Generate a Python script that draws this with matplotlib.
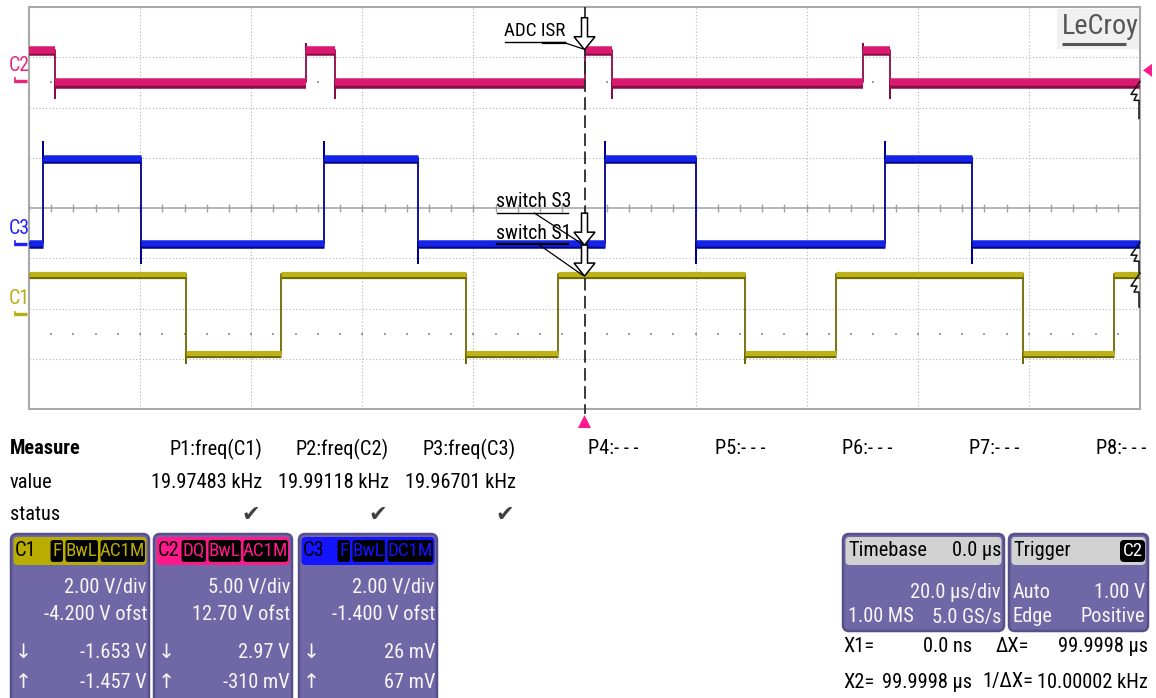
import matplotlib
matplotlib.use("Agg")
import matplotlib.pyplot as plt
import matplotlib.patheffects as pe
from matplotlib import font_manager as fm
from matplotlib.textpath import TextPath
from matplotlib.patches import Polygon, FancyBboxPatch, Rectangle
from matplotlib.transforms import Affine2D, ScaledTranslation
import numpy as np

# ---------------------------------------------------------------- font: prefer a narrow sans
_names = {f.name for f in fm.fontManager.ttflist}
FAMILY, STRETCH = None, "normal"
for cand in ["Liberation Sans Narrow", "Arial Narrow", "Roboto Condensed",
             "Open Sans Condensed", "DejaVu Sans Condensed"]:
    if cand in _names:
        FAMILY = [cand, "DejaVu Sans"]
        break
if FAMILY is None:
    for f in fm.fontManager.ttflist:
        if (f.stretch in ("condensed", "semi-condensed") and f.style == "normal"
                and str(f.weight) in ("400", "normal", "regular", "book")):
            FAMILY, STRETCH = [f.name, "DejaVu Sans"], f.stretch
            break
if FAMILY is None:
    FAMILY = ["Liberation Sans", "DejaVu Sans"]
plt.rcParams["font.family"] = FAMILY
plt.rcParams["font.stretch"] = STRETCH

# size factor so that a readout value spans its 109 px column
_fp = fm.FontProperties(family=FAMILY, stretch=STRETCH)
_w = TextPath((0, 0), "19.97483 kHz", size=72, prop=_fp).get_extents().width
SCALE = (109 * 72 * 72 / (_w * 100)) / 14.5


def fs(size):
    return size * SCALE


# ---------------------------------------------------------------- settings
time_per_div = 20.0            # µs / div
n_xdiv, n_ydiv = 10, 8
t_min, t_max = -100.0, 100.0   # µs (timebase delay 0.0 µs)

c1_vdiv, c1_ofst = 2.0, -4.2
c2_vdiv, c2_ofst = 5.0, 12.70
c3_vdiv, c3_ofst = 2.0, -1.4
trigger_level = 1.00           # V on C2
cursor_x1, cursor_x2 = 0.0, 99.9998  # µs

# ---------------------------------------------------------------- waveforms (V, µs)
c1_high, c1_low = 1.57, -1.57
c1_edges = [-71.67, -54.59, -21.39, -4.84, 28.90, 45.21, 78.86, 95.30]
c1_start_high = True
c1_rise_spike, c1_fall_spike = None, -1.98

c2_high, c2_low = 3.05, -0.20
c2_edges = [-95.3, -50.1, -45.0, 0.0, 4.95, 50.1, 55.0]
c2_start_high = True
c2_rise_spike, c2_fall_spike = 3.6, -1.75

c3_high, c3_low = 3.40, 0.0
c3_edges = [-97.44, -79.85, -46.85, -29.92, 3.69, 20.07, 54.10, 69.76]
c3_start_high = False
c3_rise_spike, c3_fall_spike = 4.03, -0.79

# ---------------------------------------------------------------- readout panel
measure_names = ["P1:freq(C1)", "P2:freq(C2)", "P3:freq(C3)"]
measure_values = ["19.97483 kHz", "19.99118 kHz", "19.96701 kHz"]
empty_params = ["P4:- - -", "P5:- - -", "P6:- - -", "P7:- - -", "P8:- - -"]

ch_names = ["C1", "C2", "C3"]
ch_tags = [["F", "BwL", "AC1M"], ["DQ", "BwL", "AC1M"], ["F", "BwL", "DC1M"]]
ch_vdiv_text = ["2.00 V/div", "5.00 V/div", "2.00 V/div"]
ch_ofst_text = ["-4.200 V ofst", "12.70 V ofst", "-1.400 V ofst"]
ch_down_text = ["-1.653 V", "2.97 V", "26 mV"]
ch_up_text = ["-1.457 V", "-310 mV", "67 mV"]

C1_COL, C1_DARK = "#bdb21a", "#6e6800"
C2_COL, C2_DARK = "#d91a70", "#8a0c45"
C3_COL, C3_DARK = "#1424e6", "#000088"
HDR_COLS = ["#b8ad00", "#ff1a8c", "#1414ff"]
LABEL_COLS = ["#b8ad10", "#e8247c", "#2020ff"]
BOX_FC, BOX_EC = "#7068a6", "#575088"

# ---------------------------------------------------------------- figure
W, H = 1156, 698
fig = plt.figure(figsize=(W / 100, H / 100), dpi=100)
fig.patch.set_facecolor("white")

L, R, T, B = 29, 1140, 7, 409
ax = fig.add_axes([L / W, 1 - B / H, (R - L) / W, (B - T) / H])
ax.set_xlim(t_min, t_max)
ax.set_ylim(-n_ydiv / 2, n_ydiv / 2)
ax.set_xticks([]); ax.set_yticks([])
for s in ax.spines.values():
    s.set_color("#a8a8a8"); s.set_linewidth(1.5)

px_t = (t_max - t_min) / (R - L)          # µs per pixel
px_d = n_ydiv / (B - T)                   # div per pixel


def to_div(v, vdiv, ofst):
    return (np.asarray(v, dtype=float) + ofst) / vdiv


# graticule
grid_kw = dict(color="#b4b4b4", lw=0.8, ls=(0, (1, 2)), zorder=1)
for k in range(1, n_xdiv):
    t = t_min + k * time_per_div
    if abs(t) > 1e-9:
        ax.axvline(t, **grid_kw)
for k in range(1, n_ydiv):
    y = -n_ydiv / 2 + k
    if y != 0:
        ax.axhline(y, **grid_kw)
ax.axhline(0, color="#a8a8a8", lw=1.2, zorder=1.2)
minor_t = np.arange(t_min, t_max + 0.01, time_per_div / 5)
ax.vlines(minor_t, -4 * px_d, 4 * px_d, color="#a0a0a0", lw=1.0, zorder=1.2)
for yy in (2.5, -2.5):
    ax.scatter(minor_t[1:-1], np.full(len(minor_t) - 2, yy), s=1.2, color="#9a9a9a",
               marker="s", linewidths=0, zorder=1.1)


def build_trace(edges, hi, lo, start_high, rise_spike, fall_spike):
    bounds = [t_min] + list(edges) + [t_max]
    levels = [hi if (start_high ^ (i % 2 == 1)) else lo for i in range(len(bounds) - 1)]
    t, v = [bounds[0]], [levels[0]]
    for i, e in enumerate(edges):
        a, b = levels[i], levels[i + 1]
        spike = rise_spike if b > a else fall_spike
        t.append(e); v.append(a)
        if spike is not None:
            t.append(e); v.append(spike)
        t.append(e); v.append(b)
    t.append(bounds[-1]); v.append(levels[-1])
    return np.array(t), np.array(v), list(zip(bounds[:-1], bounds[1:], levels))


def draw_channel(edges, hi, lo, start_high, rs, fs_, vdiv, ofst, col, dark, band_px):
    t, v, segs = build_trace(edges, hi, lo, start_high, rs, fs_)
    ax.plot(t, to_div(v, vdiv, ofst), color=dark, lw=1.3, zorder=3)
    band = band_px * 0.72
    for t0, t1, lvl in segs:
        y = float(to_div(lvl, vdiv, ofst))
        ax.plot([t0, t1], [y, y], color=col, lw=band, solid_capstyle="butt", zorder=3.2,
                path_effects=[pe.SimpleLineShadow(offset=(0, -1.6), shadow_color=dark, alpha=1.0),
                              pe.Normal()])


draw_channel(c2_edges, c2_high, c2_low, c2_start_high, c2_rise_spike, c2_fall_spike,
             c2_vdiv, c2_ofst, C2_COL, C2_DARK, 7.5)
draw_channel(c3_edges, c3_high, c3_low, c3_start_high, c3_rise_spike, c3_fall_spike,
             c3_vdiv, c3_ofst, C3_COL, C3_DARK, 6.5)
draw_channel(c1_edges, c1_high, c1_low, c1_start_high, c1_rise_spike, c1_fall_spike,
             c1_vdiv, c1_ofst, C1_COL, C1_DARK, 5.2)


def px_frame(x, y):
    """Pixel offsets (y pointing down) around a data point of the scope axes."""
    return (Affine2D().scale(1 / fig.dpi, -1 / fig.dpi) + fig.dpi_scale_trans
            + ScaledTranslation(x, y, ax.transData))


# X1 cursor
xt = ax.get_xaxis_transform()
ax.plot([cursor_x1, cursor_x1], [1, -0.012], transform=xt, color="#2a2a2a",
        lw=1.3, ls=(0, (7, 3)), zorder=4, clip_on=False)

# trigger markers
ax.add_patch(Polygon([(0, 6), (-6.5, 19), (6.5, 19)], closed=True, transform=px_frame(cursor_x1, -4),
                     fc="#ff1a8c", ec="none", clip_on=False, zorder=5))
trig_y = float(to_div(trigger_level, c2_vdiv, c2_ofst))
ax.add_patch(Polygon([(3, 0), (12, -6.5), (12, 6.5)], closed=True, transform=px_frame(t_max, trig_y),
                     fc="#ff1a8c", ec="none", clip_on=False, zorder=5))

# channel ground markers on the left edge
for name, vdiv, ofst, col in [("C2", c2_vdiv, c2_ofst, LABEL_COLS[1]),
                              ("C3", c3_vdiv, c3_ofst, LABEL_COLS[2]),
                              ("C1", c1_vdiv, c1_ofst, LABEL_COLS[0])]:
    g = float(to_div(0.0, vdiv, ofst))
    fr = px_frame(t_min, g)
    ax.plot([-15, -2], [0.5, 0.5], transform=fr, color=col, lw=2.4, solid_capstyle="butt",
            clip_on=False, zorder=5)
    ax.plot([-14.5, -14.5], [-2, 1.5], transform=fr, color=col, lw=1.2, clip_on=False, zorder=5)
    ax.text(-10, -15, name, transform=fr, color=col, fontsize=fs(14), ha="center", va="center",
            clip_on=False, zorder=5)

# trace ends at the X2 cursor (right edge)
for lvl, vdiv, ofst, drop in [(c2_low, c2_vdiv, c2_ofst, 36), (c3_low, c3_vdiv, c3_ofst, 29),
                              (c1_high, c1_vdiv, c1_ofst, 33)]:
    y = float(to_div(lvl, vdiv, ofst))
    ax.plot([0, -9, -3, -6, -1, -1], [-1, 12, 12, 18, 18, drop], transform=px_frame(cursor_x2, y),
            color="#111111", lw=1.1, clip_on=False, zorder=5)


# annotations at the X1 cursor
def hollow_arrow(x, y, length):
    verts = [(0, 0), (-10.5, -13), (-3, -13), (-3, -length), (3, -length), (3, -13), (10.5, -13)]
    ax.add_patch(Polygon(verts, closed=True, transform=px_frame(x, y), fc="white", ec="black",
                         lw=1.1, zorder=6, clip_on=False))


def tag(x, y, label, size, text_dy, ul_y, ul_x0, ul_x1, lead_from, thick):
    fr = px_frame(x, y)
    ax.text(ul_x0, text_dy, label, transform=fr, fontsize=fs(size), ha="left", va="center",
            color="black", zorder=6)
    ax.plot([ul_x0, ul_x1], [ul_y, ul_y], transform=fr, color="black", lw=1.6 if thick else 1.0,
            zorder=6)
    ax.plot([lead_from[0], -2], [lead_from[1], -1], transform=fr, color="black", lw=0.9, zorder=6)


adc_y = float(to_div(c2_high, c2_vdiv, c2_ofst))
hollow_arrow(cursor_x1, adc_y, 32)
tag(cursor_x1, adc_y, "ADC ISR", 13.5, -19, -8, -80, -20, (-20, -7), False)
ax.plot([-42, -20], [-6.5, -6.5], transform=px_frame(cursor_x1, adc_y), color="black", lw=1.6, zorder=6)

s3_y = float(to_div(c3_low, c3_vdiv, c3_ofst)) - 2 * px_d
hollow_arrow(cursor_x1, s3_y, 32)
tag(cursor_x1, s3_y, "switch S3", 14, -44, -32, -88, -17, (-50, -32), False)

s1_y = float(to_div(c1_high, c1_vdiv, c1_ofst)) - 2 * px_d
hollow_arrow(cursor_x1, s1_y, 31)
tag(cursor_x1, s1_y, "switch S1", 14, -43, -32, -88, -17, (-45, -31), True)

# ---------------------------------------------------------------- overlay in pixels
ui = fig.add_axes([0, 0, 1, 1])
ui.set_xlim(0, W); ui.set_ylim(H, 0)
ui.axis("off")

ui.add_patch(Rectangle((1057, 9), 82, 40, fc="#f0f0f0", ec="none"))
ui.text(1062, 27, "LeCroy", fontsize=fs(20), color="#555555", ha="left", va="center")
ui.plot([1062, 1126], [43.5, 43.5], color="#555555", lw=2.2, solid_capstyle="butt")

TXT = fs(14.5)
ui.text(10, 449, "Measure", fontsize=TXT, fontweight="bold", ha="left", va="center")
ui.text(10, 482, "value", fontsize=TXT, ha="left", va="center")
ui.text(10, 515, "status", fontsize=TXT, ha="left", va="center")
col_right = [262, 389, 516]
for xr, name, val in zip(col_right, measure_names, measure_values):
    ui.text(xr, 449, name, fontsize=TXT, ha="right", va="center")
    ui.text(xr, 482, val, fontsize=TXT, ha="right", va="center")
    ui.text(xr - 11, 515, "\u2714", fontsize=16, ha="center", va="center", color="#404040",
            family=["DejaVu Sans"])
for i, name in enumerate(empty_params):
    ui.text(588 + 127 * i, 449, name, fontsize=TXT, ha="left", va="center")


def panel_box(x0, w, y0=534, h=170, hdr_col=None):
    ui.add_patch(FancyBboxPatch((x0, y0), w, h, boxstyle="round,pad=0,rounding_size=6",
                                fc=BOX_FC, ec=BOX_EC, lw=1.8))
    ui.add_patch(FancyBboxPatch((x0 + 2.5, y0 + 3), w - 5, 28, boxstyle="round,pad=0,rounding_size=4",
                                fc=hdr_col, ec="none"))


BODY = fs(14.5)
box_x = [11, 154, 299]
tag_w = {"F": 15, "DQ": 27, "BwL": 35, "AC1M": 47, "DC1M": 48}
for i in range(3):
    x0 = box_x[i]
    panel_box(x0, 138, hdr_col=HDR_COLS[i])
    ui.text(x0 + 4, 551, ch_names[i], fontsize=BODY, color="black", ha="left", va="center")
    xr = x0 + 136
    for lab in reversed(ch_tags[i]):
        wdt = tag_w[lab]
        ui.add_patch(FancyBboxPatch((xr - wdt, 539.5), wdt - 1.5, 23,
                                    boxstyle="round,pad=0,rounding_size=3",
                                    fc="black", ec=HDR_COLS[i], lw=0.8))
        ui.text(xr - wdt / 2 - 0.75, 551, lab, fontsize=fs(13.5), color=HDR_COLS[i],
                ha="center", va="center")
        xr -= wdt
    xr = x0 + 136
    ui.text(xr, 587, ch_vdiv_text[i], fontsize=BODY, color="#f6f6f6", ha="right", va="center")
    ui.text(xr, 615, ch_ofst_text[i], fontsize=BODY, color="#f6f6f6", ha="right", va="center")
    ui.text(x0 + 4, 652, "\u2193", fontsize=BODY, color="#f6f6f6", ha="left", va="center")
    ui.text(xr, 652, ch_down_text[i], fontsize=BODY, color="#f6f6f6", ha="right", va="center")
    ui.text(x0 + 4, 682, "\u2191", fontsize=BODY, color="#f6f6f6", ha="left", va="center")
    ui.text(xr, 682, ch_up_text[i], fontsize=BODY, color="#f6f6f6", ha="right", va="center")

# timebase / trigger
panel_box(843, 161, h=97, hdr_col="#d2d2d2")
ui.text(848, 551, "Timebase", fontsize=BODY, ha="left", va="center")
ui.text(1001, 551, "0.0 \u00b5s", fontsize=BODY, ha="right", va="center")
ui.text(1001, 593, f"{time_per_div:.1f} \u00b5s/div", fontsize=BODY, color="#f6f6f6", ha="right", va="center")
ui.text(848, 617, "1.00 MS", fontsize=BODY, color="#f6f6f6", ha="left", va="center")
ui.text(1001, 617, "5.0 GS/s", fontsize=BODY, color="#f6f6f6", ha="right", va="center")

panel_box(1009, 139, h=97, hdr_col="#d2d2d2")
ui.text(1013, 551, "Trigger", fontsize=BODY, ha="left", va="center")
ui.add_patch(FancyBboxPatch((1120, 540), 25, 22, boxstyle="round,pad=0,rounding_size=4", fc="black", ec="none"))
ui.text(1132.5, 551, "C2", fontsize=fs(13.5), color="white", ha="center", va="center")
ui.text(1013, 593, "Auto", fontsize=BODY, color="#f6f6f6", ha="left", va="center")
ui.text(1145, 593, f"{trigger_level:.2f} V", fontsize=BODY, color="#f6f6f6", ha="right", va="center")
ui.text(1013, 617, "Edge", fontsize=BODY, color="#f6f6f6", ha="left", va="center")
ui.text(1145, 617, "Positive", fontsize=BODY, color="#f6f6f6", ha="right", va="center")

# cursor readouts
dx = cursor_x2 - cursor_x1
ui.text(843, 647, "X1=", fontsize=BODY, ha="left", va="center")
ui.text(972, 647, f"{cursor_x1 * 1000:.1f} ns", fontsize=BODY, ha="right", va="center")
ui.text(996, 647, "\u0394X=", fontsize=BODY, ha="left", va="center")
ui.text(1148, 647, f"{dx:.4f} \u00b5s", fontsize=BODY, ha="right", va="center")
ui.text(843, 682, "X2=", fontsize=BODY, ha="left", va="center")
ui.text(972, 682, f"{cursor_x2:.4f} \u00b5s", fontsize=BODY, ha="right", va="center")
ui.text(982, 682, "1/\u0394X=", fontsize=BODY, ha="left", va="center")
ui.text(1148, 682, f"{1000 / dx:.5f} kHz", fontsize=BODY, ha="right", va="center")

fig.savefig("out.png", dpi=100, facecolor="white")
